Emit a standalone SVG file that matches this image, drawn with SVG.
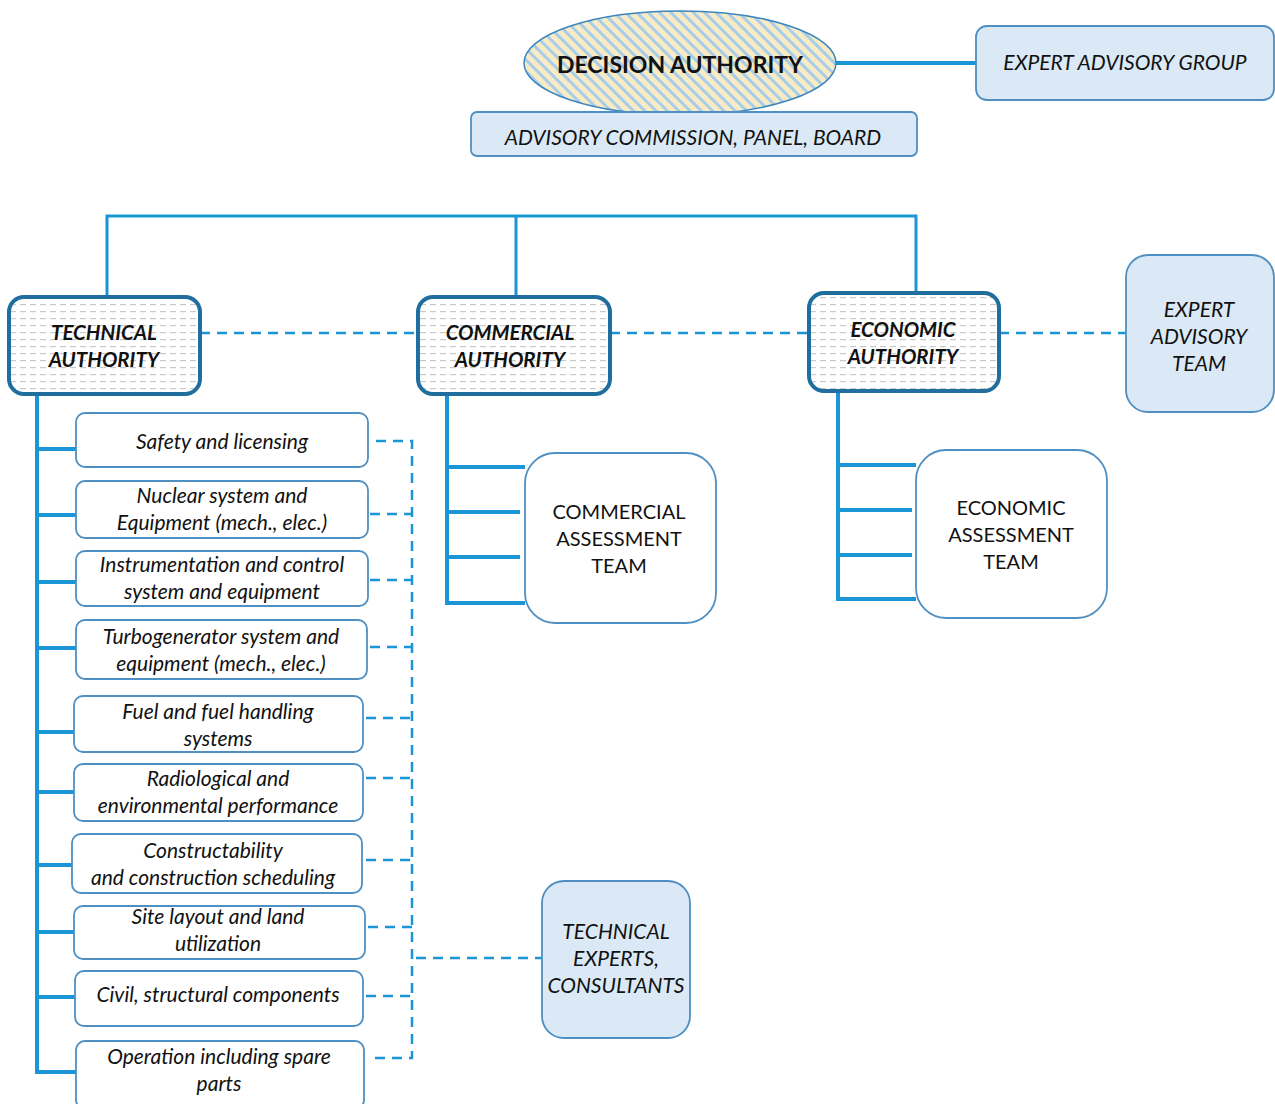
<svg xmlns="http://www.w3.org/2000/svg" width="1275" height="1104" viewBox="0 0 1275 1104">
<defs>
<pattern id="stripes" width="8" height="8" patternUnits="userSpaceOnUse" patternTransform="rotate(-45)">
<rect width="8" height="8" fill="#f9ecc4"/>
<rect width="3" height="8" fill="#a8cdea"/>
</pattern>
<pattern id="dashfill" width="10" height="7" patternUnits="userSpaceOnUse">
<rect width="10" height="7" fill="#ffffff"/>
<rect x="0" y="3" width="6" height="1.2" fill="#c9c9c9"/>
</pattern>
</defs>
<style>
text{font-family:Lato,"Liberation Sans",sans-serif;fill:#111;text-anchor:middle}
.it{font-style:italic;font-size:21px}
.bi{font-style:italic;font-weight:bold;font-size:20.5px}
.rg{font-size:20px}
.blue{fill:#dae9f5;stroke:#4f8fc2;stroke-width:1.8}
.white{fill:#ffffff;stroke:#4f8fc2;stroke-width:1.8}
.auth{fill:url(#dashfill);stroke:#1f6e9e;stroke-width:4}
.solid{stroke:#1a95d5;stroke-width:4;fill:none}
.thin{stroke:#1a95d5;stroke-width:3;fill:none}
.dash{stroke:#1a95d5;stroke-width:2.5;fill:none;stroke-dasharray:10 7}
</style>
<rect width="1275" height="1104" fill="#ffffff"/>

<g id="connectors">
<line class="solid" x1="836" y1="63" x2="976" y2="63"/>
<path class="thin" d="M107 297 V216 H916 V293 M516 216 V297"/>
<line class="dash" x1="200" y1="333" x2="418" y2="333"/>
<line class="dash" x1="610" y1="333" x2="809" y2="333"/>
<line class="dash" x1="999" y1="333" x2="1126" y2="333"/>
<path class="solid" d="M37 394 V1072 H76 M37 449 H76 M37 515 H76 M37 582 H76 M37 648 H76 M37 732 H74 M37 792 H74 M37 865 H72 M37 932 H74 M37 997 H75"/>
<path class="solid" d="M447 394 V603 H525 M447 467 H525 M447 512 H520 M447 557 H520"/>
<path class="solid" d="M838 391 V599 H916 M838 465 H916 M838 510 H912 M838 555 H912"/>
<path class="dash" d="M376 441 H412 V1058 H368"/>
<path class="dash" d="M370 514 H412 M370 580 H412 M370 647 H412 M366 718 H412 M366 778 H412 M366 860 H412 M368 927 H412 M366 996 H412"/>
<line class="dash" x1="416" y1="958" x2="542" y2="958"/>
</g>

<g id="decision-authority">
<ellipse cx="680" cy="63" rx="156" ry="52" fill="url(#stripes)" stroke="#3a86bd" stroke-width="1.5"/>
<text x="680" y="73" font-size="23" font-weight="bold">DECISION AUTHORITY</text>
</g>
<g id="expert-advisory-group">
<rect class="blue" x="976" y="26" width="298" height="74" rx="11"/>
<text class="it" x="1125" y="70">EXPERT ADVISORY GROUP</text>
</g>
<g id="advisory-commission">
<rect class="blue" x="471" y="112" width="446" height="44" rx="6"/>
<text class="it" x="693" y="145">ADVISORY COMMISSION,  PANEL,  BOARD</text>
</g>

<g id="technical-authority">
<rect class="auth" x="9" y="297" width="191" height="97" rx="15"/>
<text class="bi" x="104" y="340">TECHNICAL</text>
<text class="bi" x="104" y="367">AUTHORITY</text>
</g>
<g id="commercial-authority">
<rect class="auth" x="418" y="297" width="192" height="97" rx="15"/>
<text class="bi" x="510" y="340">COMMERCIAL</text>
<text class="bi" x="510" y="367">AUTHORITY</text>
</g>
<g id="economic-authority">
<rect class="auth" x="809" y="293" width="190" height="98" rx="15"/>
<text class="bi" x="903" y="337">ECONOMIC</text>
<text class="bi" x="903" y="364">AUTHORITY</text>
</g>
<g id="expert-advisory-team">
<rect class="blue" x="1126" y="255" width="148" height="157" rx="22"/>
<text class="it" x="1199" y="317">EXPERT</text>
<text class="it" x="1199" y="344">ADVISORY</text>
<text class="it" x="1199" y="371">TEAM</text>
</g>

<g id="safety">
<rect class="white" x="76" y="413" width="292" height="54" rx="9"/>
<text class="it" x="222" y="449">Safety and licensing</text>
</g>
<g id="nuclear">
<rect class="white" x="76" y="481" width="292" height="57" rx="9"/>
<text class="it" x="222" y="503">Nuclear system and</text>
<text class="it" x="222" y="530">Equipment (mech., elec.)</text>
</g>
<g id="instrumentation">
<rect class="white" x="76" y="551" width="292" height="55" rx="9"/>
<text class="it" x="222" y="572">Instrumentation  and control</text>
<text class="it" x="222" y="599">system and equipment</text>
</g>
<g id="turbogenerator">
<rect class="white" x="76" y="620" width="291" height="59" rx="9"/>
<text class="it" x="221" y="644">Turbogenerator  system and</text>
<text class="it" x="221" y="671">equipment (mech., elec.)</text>
</g>
<g id="fuel">
<rect class="white" x="74" y="696" width="289" height="56" rx="9"/>
<text class="it" x="218" y="719">Fuel and fuel handling</text>
<text class="it" x="218" y="746">systems</text>
</g>
<g id="radiological">
<rect class="white" x="74" y="764" width="289" height="57" rx="9"/>
<text class="it" x="218" y="786">Radiological and</text>
<text class="it" x="218" y="813">environmental performance</text>
</g>
<g id="constructability">
<rect class="white" x="72" y="834" width="290" height="59" rx="9"/>
<text class="it" x="213" y="858">Constructability</text>
<text class="it" x="213" y="885">and construction scheduling</text>
</g>
<g id="site-layout">
<rect class="white" x="74" y="906" width="291" height="53" rx="9"/>
<text class="it" x="218" y="924">Site layout  and land</text>
<text class="it" x="218" y="951">utilization</text>
</g>
<g id="civil">
<rect class="white" x="75" y="971" width="288" height="55" rx="9"/>
<text class="it" x="218" y="1002">Civil, structural  components</text>
</g>
<g id="operation">
<rect class="white" x="76" y="1041" width="288" height="68" rx="9"/>
<text class="it" x="219" y="1064">Operation  including spare</text>
<text class="it" x="219" y="1091">parts</text>
</g>

<g id="commercial-assessment-team">
<rect class="white" x="525" y="453" width="191" height="170" rx="30"/>
<text class="rg" x="619" y="519">COMMERCIAL</text>
<text class="rg" x="619" y="546">ASSESSMENT</text>
<text class="rg" x="619" y="573">TEAM</text>
</g>
<g id="economic-assessment-team">
<rect class="white" x="916" y="450" width="191" height="168" rx="30"/>
<text class="rg" x="1011" y="515">ECONOMIC</text>
<text class="rg" x="1011" y="542">ASSESSMENT</text>
<text class="rg" x="1011" y="569">TEAM</text>
</g>
<g id="technical-experts">
<rect class="blue" x="542" y="881" width="148" height="157" rx="22"/>
<text class="it" x="616" y="939">TECHNICAL</text>
<text class="it" x="616" y="966">EXPERTS,</text>
<text class="it" x="616" y="993">CONSULTANTS</text>
</g>
</svg>
